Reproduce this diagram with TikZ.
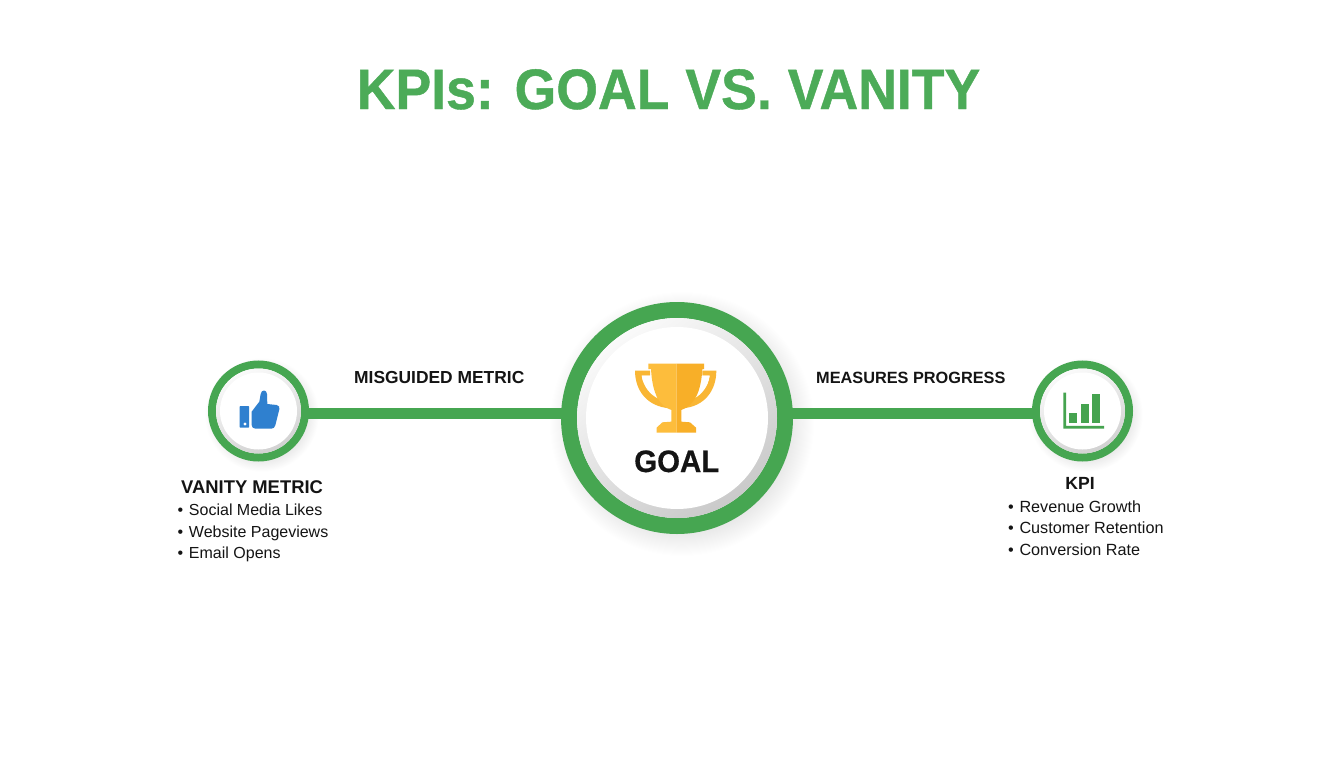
\documentclass[tikz,border=0pt]{standalone}
\usepackage{fontspec}
\setmainfont{Liberation Sans}
\newfontfamily\titlefont[FakeStretch=0.94,FakeBold=0.8]{Liberation Sans Bold}
\newfontfamily\goalfont[FakeStretch=0.95,FakeBold=0.5]{Liberation Sans Bold}
\definecolor{ringgreen}{HTML}{46A651}
\definecolor{titlegreen}{HTML}{4CAB58}
\definecolor{cupH}{HTML}{F9B634}
\definecolor{cupL}{HTML}{FDBD3C}
\definecolor{cupR}{HTML}{F8AF28}
\definecolor{thumbblue}{HTML}{2F80CF}
\definecolor{chartgreen}{HTML}{45A34F}
\definecolor{inktext}{HTML}{141414}
\newcommand{\softshadow}[4]{% x y radius spread
  \foreach \k in {0,1,...,23}{
    \fill[black,opacity=0.0055] (#1,#2) circle ({#3+#4*\k/23});
  }}
\tikzset{
  x=1pt,y=-1pt,
  ringnode/.style={circle,draw=ringgreen,fill=white,inner sep=0pt},
  connector/.style={draw=ringgreen,line width=10.5pt,shorten >=-2pt,shorten <=-2pt},
  heading/.style={anchor=base west,inner sep=0pt,text=inktext,font=\fontsize{#1}{#1}\selectfont\bfseries},
  bullet/.style={anchor=base west,inner sep=0pt,text=inktext,font=\fontsize{#1}{18}\selectfont},
}
\newcommand{\bl}[1]{\makebox[11.3pt][l]{•}#1}
\begin{document}
\begin{tikzpicture}
\useasboundingbox (0,0) rectangle (1344,768);
\fill[white] (0,0) rectangle (1344,768);

% soft shadows
\softshadow{682}{424}{108}{24}
\softshadow{262}{415}{44}{13}
\softshadow{1086}{415}{44}{13}

% title
\node[anchor=base,inner sep=0pt,text=titlegreen,font=\fontsize{57}{60}\titlefont\spaceskip 0.28em\relax] (title) at (668.5,109) {KPIs: GOAL VS. VANITY};

% rings
\node[ringnode,line width=8pt,minimum size=93pt] (vanity) at (258.5,411) {};
\node[ringnode,line width=8pt,minimum size=93pt] (kpi) at (1082.5,411) {};
\node[ringnode,line width=16pt,minimum size=216pt] (goal) at (677,418) {};

% inner rims
\shade[shading=axis,top color=black!2,bottom color=black!21,shading angle=35] (goal.center) circle (100);
\fill[white] (goal.center) circle (91);
\shade[shading=axis,top color=black!2,bottom color=black!18,shading angle=25] (vanity.center) circle (42.5);
\fill[white] (vanity.center) circle (38.5);
\shade[shading=axis,top color=black!2,bottom color=black!18,shading angle=25] (kpi.center) circle (42.5);
\fill[white] (kpi.center) circle (38.5);

% connectors
\coordinate (railL) at (0,413.5);
\draw[connector] (vanity.east |- railL) -- (goal.west |- railL);
\draw[connector] (goal.east |- railL) -- (kpi.west |- railL);

% connector labels
\node[heading=17.4] (mis) at (354,383) {MISGUIDED METRIC};
\node[heading=16.3] (mea) at (816,383) {MEASURES PROGRESS};

% trophy
\begin{scope}[shift={(625,355)},x=0.3333pt,y=-0.3333pt]
  \fill[cupH] (75,47) -- (30,47) .. controls (30,105) and (65,155) .. (135,160) -- (135,140) .. controls (90,130) and (55,100) .. (50,62) -- (75,62) -- cycle;
  \fill[cupH] (232,47) -- (274,47) .. controls (274,105) and (240,155) .. (172,160) -- (172,140) .. controls (215,130) and (250,100) .. (254,62) -- (232,62) -- cycle;
  \fill[white] (50,62) -- (78,62) .. controls (80,90) and (86,110) .. (98,130) .. controls (75,118) and (55,95) .. (50,62) -- cycle;
  \fill[white] (254,62) -- (228,62) .. controls (226,90) and (220,110) .. (208,130) .. controls (230,118) and (250,95) .. (254,62) -- cycle;
  \fill[cupL] (70,26) -- (155,26) -- (155,233) -- (95,233) -- (95,218) -- (112,202) -- (139,200) -- (139,165)
     .. controls (102,152) and (82,115) .. (78,42) -- (70,42) -- cycle;
  \fill[cupR] (155,26) -- (237,26) -- (237,42) -- (232,42)
     .. controls (228,115) and (206,152) .. (169,165) -- (169,200) -- (195,202) -- (213,218) -- (213,233) -- (155,233) -- cycle;
\end{scope}

% GOAL label
\node[anchor=base west,inner sep=0pt,text=inktext,font=\fontsize{31}{31}\goalfont] (goaltext) at (634,472) {GOAL};

% thumbs up
\begin{scope}[shift={(230,380)},x=0.3333pt,y=-0.3333pt]
  \fill[thumbblue,rounded corners=0.6pt] (29,78) rectangle (57,143);
  \fill[white] (45,132) circle (5);
  \fill[thumbblue] (65,95) -- (88,65) -- (92,42)
     .. controls (94,28) and (110,28) .. (111,42)
     -- (112,72) -- (140,75) .. controls (148,76) and (149,82) .. (148,88)
     -- (136,136) .. controls (134,143) and (130,146) .. (124,146)
     -- (76,146) .. controls (69,146) and (65,141) .. (65,135) -- cycle;
\end{scope}

% chart
\begin{scope}[shift={(1000,350)},x=0.3333pt,y=-0.3333pt]
  \fill[chartgreen] (190,128) -- (198,128) -- (198,228) -- (312,228) -- (312,236) -- (190,236) -- cycle;
  \fill[chartgreen] (208,190) rectangle (232,220);
  \fill[chartgreen] (242,162) rectangle (267,220);
  \fill[chartgreen] (277,133) rectangle (301,220);
\end{scope}

% left text
\node[heading=18.4] (vt) at (181,493) {VANITY METRIC};
\node[bullet=16] (v1) at (177.5,515) {\bl{Social Media Likes}};
\node[bullet=16] (v2) at (177.5,537) {\bl{Website Pageviews}};
\node[bullet=16] (v3) at (177.5,558) {\bl{Email Opens}};

% right text
\node[heading=17.6,anchor=base] (kt) at (1080,489) {KPI};
\node[bullet=16.2] (k1) at (1008,512) {\bl{Revenue Growth}};
\node[bullet=16.2] (k2) at (1008,533) {\bl{Customer Retention}};
\node[bullet=16.2] (k3) at (1008,555) {\bl{Conversion Rate}};
\end{tikzpicture}
\end{document}
